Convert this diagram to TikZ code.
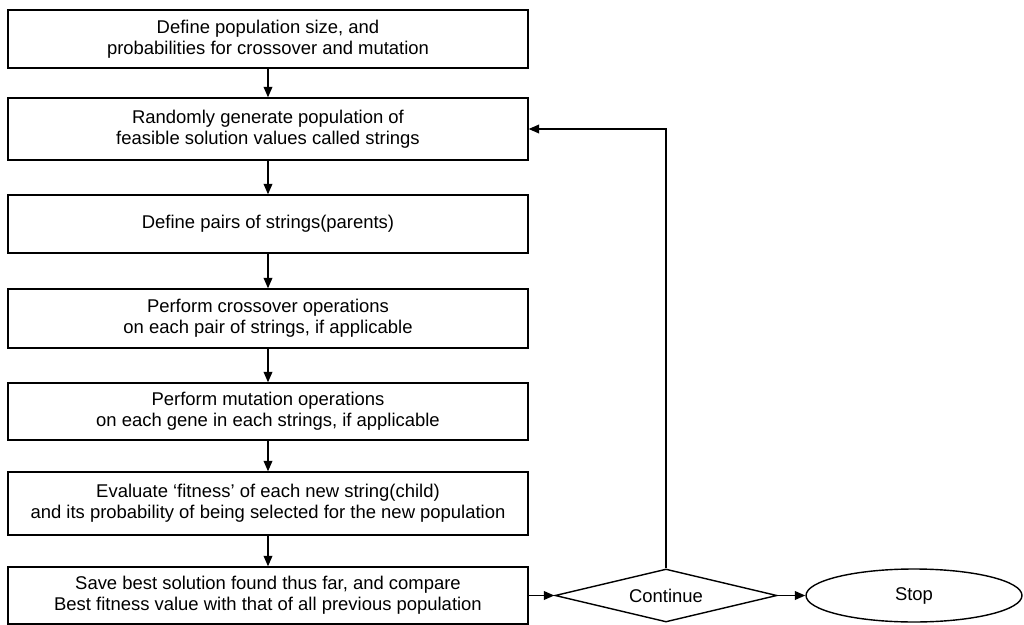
\documentclass[tikz,border=0pt]{standalone}
\usepackage{fontspec}
\setmainfont{Liberation Sans}
\usetikzlibrary{arrows.meta,shapes.geometric,calc}
\tikzstyle{stepbox}=[draw,line width=0.8pt,minimum width=10.4cm,inner sep=0pt,align=center,font=\fontsize{10.5}{11.8}\selectfont]
\tikzstyle{flow}=[-{Triangle[length=6pt,width=5pt]},line width=0.8pt]

\begin{document}
\begin{tikzpicture}[x=0.02cm,y=-0.02cm]
            \useasboundingbox (0,0) rectangle (1024,625);
            \def\cx{268}
            % process steps
            \node[stepbox,minimum height=1.16cm] (size) at (\cx,39) {Define population size, and\\probabilities for crossover and mutation};
            \node[stepbox,minimum height=1.24cm] (rand) at (\cx,129) {Randomly generate population of\\feasible solution values called strings};
            \node[stepbox,minimum height=1.16cm] (pairs) at (\cx,224) {Define pairs of strings(parents)};
            \node[stepbox,minimum height=1.18cm] (cross) at (\cx,318.5) {Perform crossover operations\\on each pair of strings, if applicable};
            \node[stepbox,minimum height=1.14cm] (mut) at (\cx,411.5) {Perform mutation operations\\on each gene in each strings, if applicable};
            \node[stepbox,minimum height=1.26cm] (eval) at (\cx,503.5) {Evaluate `fitness' of each new string(child)\\and its probability of being selected for the new population};
            \node[stepbox,minimum height=1.14cm] (save) at (\cx,595.5) {Save best solution found thus far, and compare\\Best fitness value with that of all previous population};
            % decision and end
            \node[draw,diamond,aspect=4.2,line width=0.8pt,inner sep=0pt,minimum width=4.44cm,minimum height=1.06cm,font=\fontsize{10.5}{11.8}\selectfont] (cont) at (666,595.5) {Continue};
            \node[draw,ellipse,line width=0.8pt,inner sep=0pt,minimum width=4.32cm,minimum height=1.06cm,font=\fontsize{10.5}{11.8}\selectfont] (stop) at (914,595.5) {Stop};
            \draw[flow] (size) -- (rand);
            \draw[flow] (rand) -- (pairs);
            \draw[flow] (pairs) -- (cross);
            \draw[flow] (cross) -- (mut);
            \draw[flow] (mut) -- (eval);
            \draw[flow] (eval) -- (save);
            \draw[flow] (save.east) -- (cont.west);
            \draw[flow] (cont.east) -- (stop.west);
            \draw[flow] (cont.north) |- (rand.east);
        \end{tikzpicture}
\end{document}
